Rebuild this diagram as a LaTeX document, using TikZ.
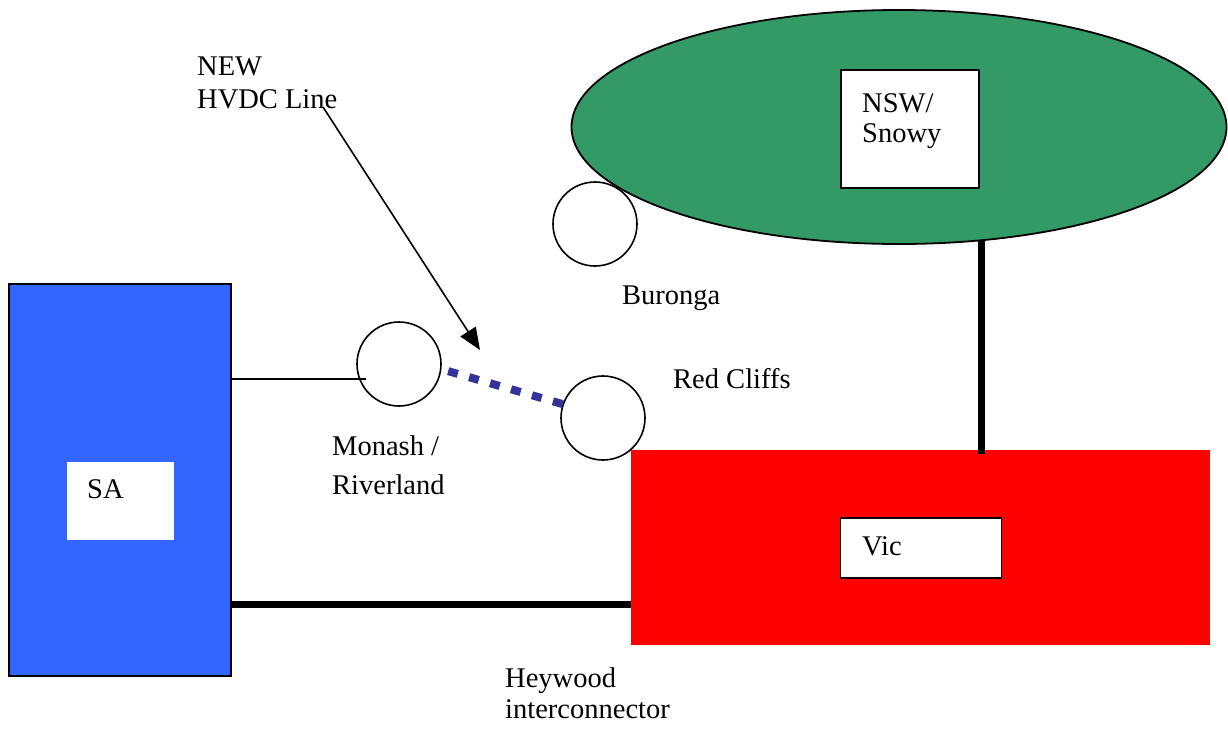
\documentclass[tikz,border=0pt]{standalone}
\usepackage{fontspec}
\setmainfont{Liberation Serif}
\usetikzlibrary{shapes.geometric,arrows.meta}
\definecolor{sablue}{HTML}{3366FF}
\definecolor{nswgreen}{HTML}{339966}
\definecolor{vicred}{HTML}{FF0000}
\definecolor{hvdc}{HTML}{333399}
\tikzset{
  lbl/.style={anchor=base west, inner sep=0pt, align=left, font=\fontsize{28.5}{33}\selectfont},
  station/.style={circle, draw=black, line width=1.6pt, minimum size=84pt, inner sep=0pt},
  whitebox/.style={fill=white, inner sep=0pt},
  heavy/.style={line width=7pt, draw=black},
}
\begin{document}
\begin{tikzpicture}[x=1pt,y=-1pt]
\useasboundingbox (0,0) rectangle (1228,729);
% regions
\node[draw=black, fill=sablue, line width=2pt, minimum width=222pt, minimum height=392pt, inner sep=0pt] (SA) at (120,480) {};
\node[whitebox, minimum width=107pt, minimum height=78pt] (SAbox) at (120.5,501) {};
\node[lbl] (SAtxt) at (87,498) {SA};
\node[ellipse, draw=black, line width=1.8pt, fill=nswgreen, minimum width=655pt, minimum height=234pt, inner sep=0pt] (NSW) at (899,127) {};
\node[whitebox, draw=black, line width=1.5pt, minimum width=138pt, minimum height=118pt] (NSWbox) at (910,129) {};
\node[lbl, font=\fontsize{28.5}{30}\selectfont] (NSWtxt) at (862,142) {NSW/\\Snowy};
% stations
\node[station] (Bur) at (595,224) {};
\node[station] (Mon) at (399,364) {};
\node[station] (RC) at (603,418) {};
% Vic
\node[fill=vicred, minimum width=579pt, minimum height=195pt, inner sep=0pt] (Vic) at (920.5,547.5) {};
\node[whitebox, draw=black, line width=1.5pt, minimum width=161pt, minimum height=60pt] (Vicbox) at (921,548) {};
\node[lbl] (Victxt) at (862,555) {Vic};
% connectors
\coordinate (monin) at (366,379);
\draw[line width=1.2pt] (SA.east |- monin) -- (monin);
\draw[heavy] (SA.east |- 0,604) -- (Vic.west |- 0,604);
\draw[heavy] (981,240) -- (981,454);
\draw[hvdc, line width=8pt, dash pattern=on 10pt off 11.8pt] (RC.161) -- (Mon.-7);
% labels
\node[lbl] (NEW) at (197,108) {NEW\\HVDC Line};
\node[lbl] (Burl) at (622,304) {Buronga};
\node[lbl] (RCl) at (673,388) {Red Cliffs};
\node[lbl, font=\fontsize{28.5}{39}\selectfont] (Monl) at (332,494) {Monash /\\Riverland};
\node[lbl, font=\fontsize{28.5}{31}\selectfont] (Hey) at (505,718) {Heywood\\interconnector};
% arrow
\coordinate (arrstart) at (323,107);
\coordinate (arrtip) at (480,350);
\draw[line width=1.6pt, -{Triangle[length=22pt,width=18pt]}] (arrstart) -- (arrtip);
\end{tikzpicture}
\end{document}
